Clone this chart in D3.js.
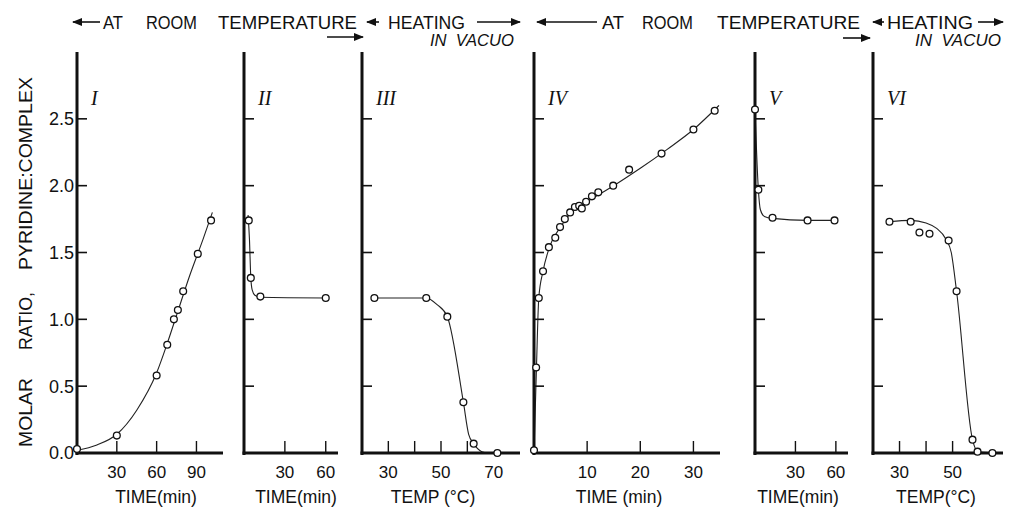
<!DOCTYPE html>
<html lang="en">
<head>
    <meta charset="UTF-8">
    <title>Molar ratio pyridine:complex</title>
    <script src="https://cdn.jsdelivr.net/npm/d3@7"></script>
    <style>
        body { margin: 0; background: white; }
        svg { display: block; }
        text { font-family: "Liberation Sans", Arial, sans-serif; fill: #111; }
        .num { font-family: "Liberation Serif", serif; font-style: italic; }
    </style>
</head>
<body>
<svg id="chart" width="1020" height="512"></svg>
<script>
    // shared y axis
    const yTicks = [0, 0.5, 1.0, 1.5, 2.0, 2.5];
    const yTickLabels = ["0.0", "0.5", "1.0", "1.5", "2.0", "2.5"];

    // panel I - room temperature, time (min)
    const p1Time = [0, 30, 60, 68, 73, 76, 80, 91, 101];
    const p1Ratio = [0.03, 0.13, 0.58, 0.81, 1.0, 1.07, 1.21, 1.49, 1.74];
    const p1CurveTime = [0, 15, 30, 45, 60, 68, 75, 85, 95, 102];
    const p1CurveRatio = [0.02, 0.06, 0.14, 0.32, 0.6, 0.82, 1.03, 1.33, 1.6, 1.8];

    // panel II - room temperature, time (min)
    const p2Time = [3.5, 5, 12, 60];
    const p2Ratio = [1.74, 1.31, 1.17, 1.16];
    const p2CurveTime = [3, 4, 5, 6, 8, 12, 60];
    const p2CurveRatio = [1.78, 1.6, 1.31, 1.22, 1.18, 1.165, 1.16];

    // panel III - heating in vacuo, temp (C)
    const p3Temp = [24.7, 44.4, 52.4, 58.5, 62.4, 71.4];
    const p3Ratio = [1.16, 1.16, 1.02, 0.38, 0.07, 0.0];
    const p3CurveTemp = [24.7, 44.4, 48.5, 52.4, 58.5, 60.5, 62.4, 65.5, 68];
    const p3CurveRatio = [1.16, 1.16, 1.11, 1.02, 0.38, 0.14, 0.07, 0.01, 0.0];

    // panel IV - room temperature, time (min)
    const p4Time = [0, 0.4, 0.9, 1.7, 2.8, 4.0, 4.9, 5.8, 6.8, 7.7, 8.5, 9.0, 9.8, 10.9, 12.1, 14.9, 17.9, 24.0, 30.0, 34.0];
    const p4Ratio = [0.02, 0.64, 1.16, 1.36, 1.54, 1.61, 1.69, 1.75, 1.80, 1.84, 1.85, 1.83, 1.88, 1.92, 1.95, 2.0, 2.12, 2.24, 2.42, 2.56];
    const p4CurveTime = [0, 0.45, 0.9, 1.7, 3, 5, 7, 10, 15, 20, 25, 30, 34.8];
    const p4CurveRatio = [0.0, 0.62, 1.16, 1.36, 1.55, 1.69, 1.8, 1.88, 2.0, 2.13, 2.27, 2.42, 2.6];

    // panel V - room temperature, time (min)
    const p5Time = [0, 2.5, 13, 39, 59];
    const p5Ratio = [2.57, 1.97, 1.76, 1.74, 1.74];
    const p5CurveTime = [0, 2.5, 4, 7, 13, 39, 59];
    const p5CurveRatio = [2.57, 1.97, 1.82, 1.77, 1.755, 1.74, 1.74];

    // panel VI - heating in vacuo, temp (C)
    const p6Temp = [26.2, 34.2, 37.5, 41.3, 48.5, 51.5, 57.5, 59.4, 65];
    const p6Ratio = [1.73, 1.73, 1.65, 1.64, 1.59, 1.21, 0.1, 0.01, 0.0];
    const p6CurveTemp = [26.2, 34.2, 40, 44, 47.5, 49.5, 51.5, 57.5, 59.5, 65];
    const p6CurveRatio = [1.73, 1.74, 1.72, 1.68, 1.6, 1.5, 1.21, 0.1, 0.01, 0.0];

    const svg = d3.select("#chart");
    const y = d3.scaleLinear().domain([0, 3]).range([453, 52]);

    const panels = [
        {num: "I", xs: p1Time, ys: p1Ratio, cx: p1CurveTime, cy: p1CurveRatio,
         domain: [0, 110], range: [77, 223], ticks: [30, 60, 90], labels: [30, 60, 90],
         title: "TIME(min)", titleX: 156, yLabels: true},
        {num: "II", xs: p2Time, ys: p2Ratio, cx: p2CurveTime, cy: p2CurveRatio,
         domain: [0, 69], range: [244, 338], ticks: [30, 60], labels: [30, 60],
         title: "TIME(min)", titleX: 296},
        {num: "III", xs: p3Temp, ys: p3Ratio, cx: p3CurveTemp, cy: p3CurveRatio,
         domain: [20, 80], range: [362, 520], ticks: [30, 40, 50, 60], labels: [30, 50, 70],
         title: "TEMP (°C)", titleX: 433},
        {num: "IV", xs: p4Time, ys: p4Ratio, cx: p4CurveTime, cy: p4CurveRatio,
         domain: [0, 35], range: [534, 720], ticks: [10, 20, 30], labels: [10, 20, 30],
         title: "TIME (min)", titleX: 619},
        {num: "V", xs: p5Time, ys: p5Ratio, cx: p5CurveTime, cy: p5CurveRatio,
         domain: [0, 69], range: [755, 848], ticks: [30, 60], labels: [30, 60],
         title: "TIME(min)", titleX: 798},
        {num: "VI", xs: p6Temp, ys: p6Ratio, cx: p6CurveTemp, cy: p6CurveRatio,
         domain: [20, 69], range: [873, 1003], ticks: [30, 40, 50], labels: [30, 50],
         title: "TEMP(°C)", titleX: 936}
    ];

    panels.forEach(p => {
        const x = d3.scaleLinear().domain(p.domain).range(p.range);
        const g = svg.append("g");
        const x0 = p.range[0];

        // fitted curve
        const line = d3.line()
            .x(d => x(d[0])).y(d => y(d[1]))
            .curve(d3.curveMonotoneX);
        g.append("path")
            .attr("d", line(p.cx.map((v, i) => [v, p.cy[i]])))
            .attr("fill", "none")
            .attr("stroke", "#222")
            .attr("stroke-width", 1.1);

        // y axis: thick line + ticks to the right
        g.append("line")
            .attr("x1", x0).attr("x2", x0)
            .attr("y1", y(0) + 2).attr("y2", y(3))
            .attr("stroke", "#111").attr("stroke-width", 3);
        g.selectAll(".ytick").data(yTicks.slice(1)).enter()
            .append("line")
            .attr("x1", x0).attr("x2", x0 + 10)
            .attr("y1", d => y(d)).attr("y2", d => y(d))
            .attr("stroke", "#111").attr("stroke-width", 1.6);

        // x axis: thick baseline + upward ticks
        g.append("line")
            .attr("x1", x0 - 1.5).attr("x2", p.range[1])
            .attr("y1", y(0)).attr("y2", y(0))
            .attr("stroke", "#111").attr("stroke-width", 3);
        g.selectAll(".xtick").data(p.ticks).enter()
            .append("line")
            .attr("x1", d => x(d)).attr("x2", d => x(d))
            .attr("y1", y(0)).attr("y2", y(0) - 12)
            .attr("stroke", "#111").attr("stroke-width", 1.4);
        g.selectAll(".xlab").data(p.labels).enter()
            .append("text")
            .attr("x", d => x(d)).attr("y", 478)
            .attr("text-anchor", "middle")
            .attr("font-size", 17)
            .text(d => d);
        g.append("text")
            .attr("x", p.titleX).attr("y", 503)
            .attr("text-anchor", "middle")
            .attr("font-size", 17.5)
            .text(p.title);

        if (p.yLabels) {
            g.selectAll(".ylab").data(yTicks).enter()
                .append("text")
                .attr("x", x0 - 3).attr("y", d => y(d))
                .attr("dy", "0.36em")
                .attr("text-anchor", "end")
                .attr("font-size", 18)
                .text((d, i) => yTickLabels[i]);
        }

        // panel numeral
        g.append("text")
            .attr("class", "num")
            .attr("x", x0 + 14).attr("y", 105)
            .attr("font-size", 20)
            .text(p.num);

        // observed points
        g.selectAll("circle").data(p.xs).enter()
            .append("circle")
            .attr("cx", d => x(d))
            .attr("cy", (d, i) => y(p.ys[i]))
            .attr("r", 3.4)
            .attr("fill", "white")
            .attr("stroke", "#111")
            .attr("stroke-width", 1.3);
    });

    // y axis title, reads bottom to top
    const yTitle = [["MOLAR", 447, 69], ["RATIO,", 350, 58], ["PYRIDINE:COMPLEX", 270, 193]];
    yTitle.forEach(t => {
        svg.append("text")
            .attr("transform", `translate(32,${t[1]}) rotate(-90)`)
            .attr("font-size", 19)
            .attr("textLength", t[2])
            .attr("lengthAdjust", "spacingAndGlyphs")
            .text(t[0]);
    });

    // header with arrows
    const defs = svg.append("defs");
    defs.append("marker")
        .attr("id", "head")
        .attr("viewBox", "0 0 10 8")
        .attr("refX", 9).attr("refY", 4)
        .attr("markerWidth", 10).attr("markerHeight", 8)
        .attr("markerUnits", "userSpaceOnUse")
        .attr("orient", "auto")
        .append("path").attr("d", "M0,0L10,4L0,8Z").attr("fill", "#111");

    const arrows = [[100, 22, 73, 22], [327, 37, 363, 37], [379, 22, 367, 22], [477, 22, 520, 22],
                    [597, 22, 537, 22], [843, 38, 870, 38], [884, 22, 873, 22], [978, 22, 1003, 22]];
    arrows.forEach(a => {
        svg.append("line")
            .attr("x1", a[0]).attr("y1", a[1]).attr("x2", a[2]).attr("y2", a[3])
            .attr("stroke", "#111").attr("stroke-width", 1.6)
            .attr("marker-end", "url(#head)");
    });

    const headWords = [["AT", 103, 20], ["ROOM", 146, 51], ["TEMPERATURE", 218, 139], ["HEATING", 388, 77],
                       ["AT", 602, 22], ["ROOM", 642, 51], ["TEMPERATURE", 717, 143], ["HEATING", 887, 86]];
    headWords.forEach(w => {
        svg.append("text")
            .attr("x", w[1]).attr("y", 29)
            .attr("font-size", 18.5)
            .attr("textLength", w[2])
            .attr("lengthAdjust", "spacingAndGlyphs")
            .text(w[0]);
    });
    [[430, 84], [915, 86]].forEach(v => {
        svg.append("text")
            .attr("x", v[0]).attr("y", 46)
            .attr("font-size", 16)
            .attr("font-style", "italic")
            .attr("textLength", v[1])
            .attr("lengthAdjust", "spacingAndGlyphs")
            .attr("xml:space", "preserve")
            .text("IN  VACUO");
    });
</script>
</body>
</html>
